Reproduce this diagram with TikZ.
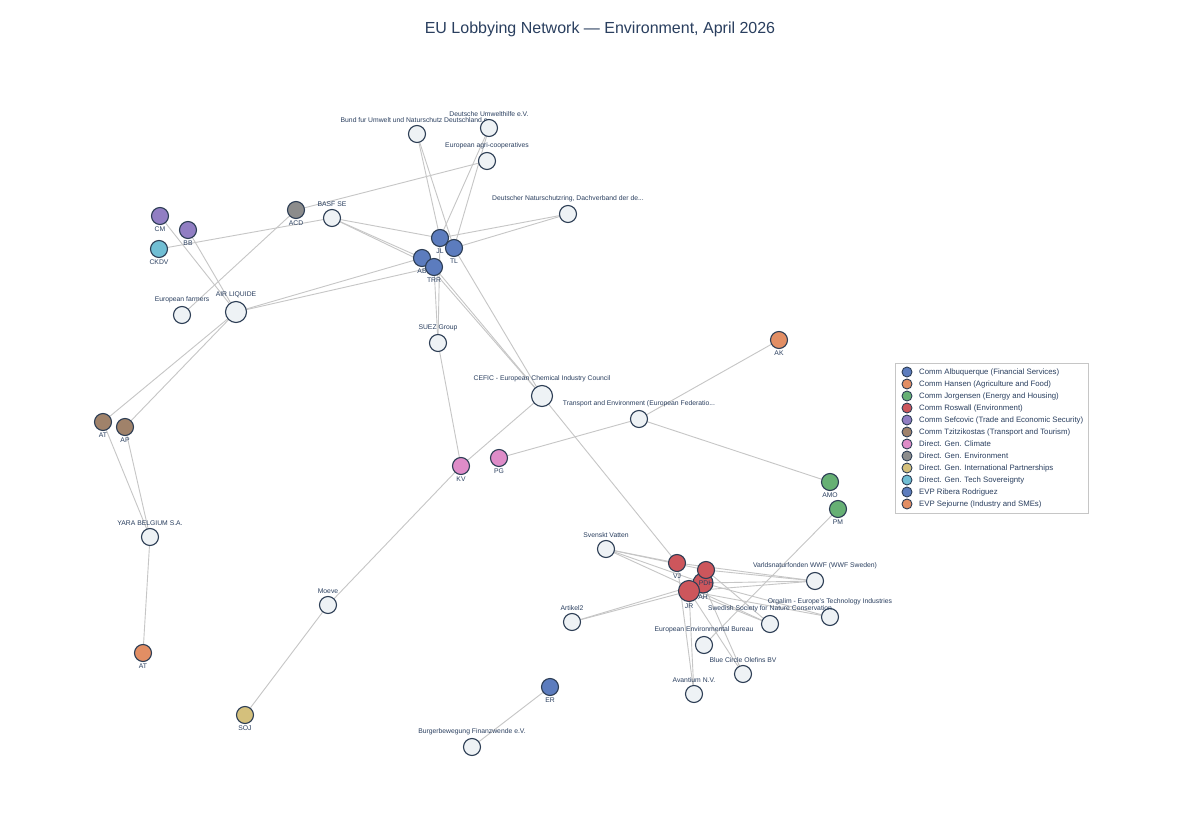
\documentclass[tikz,border=0pt]{standalone}
\usepackage{fontspec}
\setmainfont{Liberation Sans}
\usetikzlibrary{backgrounds}
\definecolor{txt}{RGB}{42,63,95}
\definecolor{ring}{RGB}{45,62,85}
\definecolor{orgfill}{RGB}{238,242,245}
\definecolor{edgec}{RGB}{198,198,198}
\definecolor{cBlue}{RGB}{92,124,190}
\definecolor{cOrange}{RGB}{226,142,100}
\definecolor{cGreen}{RGB}{102,176,116}
\definecolor{cRed}{RGB}{205,86,92}
\definecolor{cPurple}{RGB}{145,126,195}
\definecolor{cBrown}{RGB}{160,130,106}
\definecolor{cPink}{RGB}{222,140,200}
\definecolor{cGray}{RGB}{140,140,140}
\definecolor{cGold}{RGB}{212,192,124}
\definecolor{cCyan}{RGB}{112,190,212}
\tikzset{
  nd/.style={circle,draw=ring,line width=1.1pt,minimum size=17pt,inner sep=0pt},
  org/.style={nd,fill=orgfill},
  big/.style={minimum size=21pt},
  lbl/.style={font=\fontsize{6.8}{8}\selectfont,text=txt,inner sep=0pt},
  up/.style={label={[lbl,label distance=2.5pt]above:#1}},
  dn/.style={label={[lbl,label distance=1.5pt]below:#1}},
  edge/.style={draw=edgec,line width=0.9pt},
  legdot/.style={circle,draw=ring,line width=0.9pt,minimum size=10pt,inner sep=0pt},
  legtxt/.style={font=\fontsize{7.8}{10}\selectfont,text=txt,anchor=west,inner sep=0pt},
}
\begin{document}
\begin{tikzpicture}[x=1pt,y=-1pt]
\useasboundingbox (0,0) rectangle (1200,840);
\node[font=\fontsize{16}{19}\selectfont,text=txt] (title) at (600,29) {EU Lobbying Network — Environment, April 2026};

% organisation nodes
\node[org,up={Bund fur Umwelt und Naturschutz Deutschland e...}] (bund) at (417,134) {};
\node[org,up={Deutsche Umwelthilfe e.V.}] (duh) at (489,128) {};
\node[org,up={European agri-cooperatives}] (agri) at (487,161) {};
\node[org,up={Deutscher Naturschutzring, Dachverband der de...}] (dnr) at (568,214) {};
\node[org,up={BASF SE}] (basf) at (332,218) {};
\node[org,big,up={AIR LIQUIDE}] (al) at (236,312) {};
\node[org,up={European farmers}] (farm) at (182,315) {};
\node[org,up={SUEZ Group}] (suez) at (438,343) {};
\node[org,big,up={CEFIC - European Chemical Industry Council}] (cefic) at (542,396) {};
\node[org,up={Transport and Environment (European Federatio...}] (te) at (639,419) {};
\node[org,up={YARA  BELGIUM S.A.}] (yara) at (150,537) {};
\node[org,up={Moeve}] (moeve) at (328,605) {};
\node[org,up={Burgerbewegung Finanzwende e.V.}] (burg) at (472,747) {};
\node[org,up={Svenskt Vatten}] (sv) at (606,549) {};
\node[org,up={Varldsnaturfonden WWF (WWF Sweden)}] (wwf) at (815,581) {};
\node[org,up={Orgalim - Europe's Technology Industries}] (orgalim) at (830,617) {};
\node[org,up={Swedish Society for Nature Conservation}] (ssnc) at (770,624) {};
\node[org,up={Artikel2}] (art) at (572,622) {};
\node[org,up={European Environmental Bureau}] (eeb) at (704,645) {};
\node[org,up={Blue Circle Olefins BV}] (bco) at (743,674) {};
\node[org,up={Avantium N.V.}] (avan) at (694,694) {};

% official nodes
\node[nd,fill=cBlue,dn=JL] (jl) at (440,238) {};
\node[nd,fill=cBlue,dn=TL] (tl) at (454,248) {};
\node[nd,fill=cBlue,dn=AB] (ab) at (422,258) {};
\node[nd,fill=cBlue,dn=TRR] (trr) at (434,267) {};
\node[nd,fill=cBlue,dn=ER] (er) at (550,687) {};
\node[nd,fill=cGray,dn=ACD] (acd) at (296,210) {};
\node[nd,fill=cPurple,dn=CM] (cm) at (160,216) {};
\node[nd,fill=cPurple,dn=BB] (bb) at (188,230) {};
\node[nd,fill=cCyan,dn=CKDV] (ckdv) at (159,249) {};
\node[nd,fill=cBrown,dn=AT] (atb) at (103,422) {};
\node[nd,fill=cBrown,dn=AP] (ap) at (125,427) {};
\node[nd,fill=cOrange,dn=AK] (ak) at (779,340) {};
\node[nd,fill=cOrange,dn=AT] (ato) at (143,653) {};
\node[nd,fill=cGreen,dn=AMO] (amo) at (830,482) {};
\node[nd,fill=cGreen,dn=PM] (pm) at (838,509) {};
\node[nd,fill=cPink,dn=KV] (kv) at (461,466) {};
\node[nd,fill=cPink,dn=PG] (pg) at (499,458) {};
\node[nd,fill=cGold,dn=SOJ] (soj) at (245,715) {};
\node[nd,fill=cRed,minimum size=20pt,dn=AH] (ah) at (703,583) {};
\node[nd,fill=cRed,dn=PDH] (pdh) at (706,570) {};
\node[nd,fill=cRed,dn=VJ] (vj) at (677,563) {};
\node[nd,fill=cRed,minimum size=21pt,dn=JR] (jr) at (689,591) {};

\begin{scope}[on background layer]
\fill[white] (0,0) rectangle (1200,840);
\foreach \a/\b in {bund/jl,bund/tl,duh/jl,duh/tl,agri/acd,dnr/jl,dnr/tl,
  basf/jl,basf/ab,basf/trr,ckdv/basf,acd/farm,al/cm,al/bb,al/ab,al/trr,
  al/atb,al/ap,atb/yara,ap/yara,yara/ato,trr/suez,jl/suez,suez/kv,kv/cefic,
  kv/moeve,moeve/soj,pg/te,te/ak,te/amo,pm/eeb,er/burg,ab/cefic,trr/cefic,
  tl/cefic,cefic/vj,sv/vj,sv/pdh,sv/ah,sv/ssnc,art/jr,art/ah,wwf/vj,wwf/pdh,
  wwf/ah,wwf/jr,orgalim/jr,orgalim/ah,ssnc/pdh,ssnc/jr,bco/jr,bco/ah,avan/jr,avan/vj}
  \draw[edge] (\a.center) -- (\b.center);
\end{scope}

% legend
\node[draw=edgec,line width=0.6pt,minimum width=193pt,minimum height=150pt,anchor=north west,inner sep=0pt] (legbox) at (894.5,363) {};
\foreach \c/\t [count=\i from 0] in {cBlue/Comm Albuquerque (Financial Services),
  cOrange/Comm Hansen (Agriculture and Food),
  cGreen/Comm Jorgensen (Energy and Housing),
  cRed/Comm Roswall (Environment),
  cPurple/Comm Sefcovic (Trade and Economic Security),
  cBrown/Comm Tzitzikostas (Transport and Tourism),
  cPink/Direct. Gen. Climate,
  cGray/Direct. Gen. Environment,
  cGold/Direct. Gen. International Partnerships,
  cCyan/Direct. Gen. Tech Sovereignty,
  cBlue/EVP Ribera Rodriguez,
  cOrange/EVP Sejourne (Industry and SMEs)}
{
  \node[legdot,fill=\c] (ld\i) at (907,372+12*\i) {};
  \node[legtxt] (lt\i) at (919,372+12*\i) {\t};
}
\end{tikzpicture}
\end{document}
